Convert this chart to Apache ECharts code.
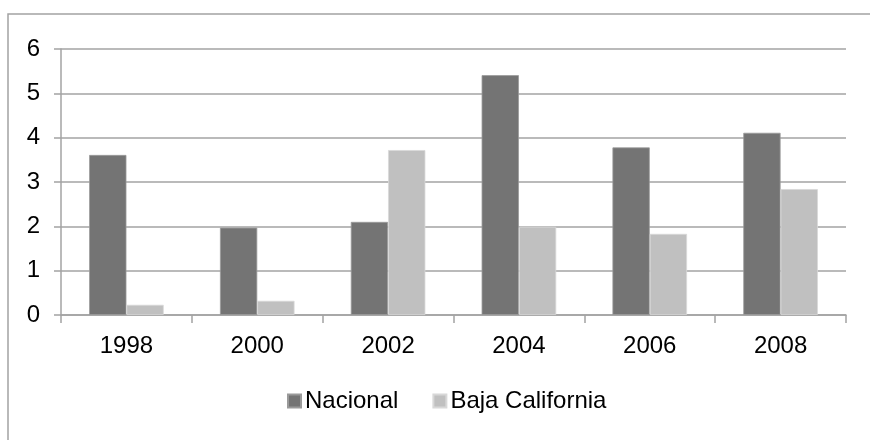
<!DOCTYPE html>
<html>
<head>
<meta charset="utf-8">
<script src="https://cdn.jsdelivr.net/npm/echarts@6/dist/echarts.min.js"></script>
<style>html,body{margin:0;padding:0;background:#fff;}#c{width:870px;height:440px;}</style>
</head>
<body>
<div id="c"></div>
<script>
var categories = ['1998', '2000', '2002', '2004', '2006', '2008'];
var nacional = [3.61, 1.97, 2.10, 5.41, 3.78, 4.11];
var bajaCalifornia = [0.23, 0.32, 3.72, 1.99, 1.83, 2.84];
var seriesNames = ['Nacional', 'Baja California'];

var chart = echarts.init(document.getElementById('c'), null, {renderer: 'canvas'});
var font = 'Liberation Sans, Arial, sans-serif';
chart.setOption({
  animation: false,
  backgroundColor: '#fff',
  graphic: [{
    type: 'rect',
    shape: {x: 8, y: 14, width: 880, height: 460},
    style: {fill: 'none', stroke: '#a3a3a3', lineWidth: 1.5},
    silent: true
  }],
  grid: {left: 61, right: 24, top: 49, bottom: 125, containLabel: false},
  legend: {
    left: 287, top: 389, padding: 0,
    itemWidth: 13, itemHeight: 13, itemGap: 34,
    icon: 'rect',
    textStyle: {fontFamily: font, fontSize: 24, color: '#000', padding: [0, 0, 0, -1]},
    data: seriesNames
  },
  xAxis: {
    type: 'category',
    data: categories,
    axisLine: {lineStyle: {color: '#a3a3a3', width: 1.5}},
    axisTick: {show: true, length: 8, alignWithLabel: false, lineStyle: {color: '#a3a3a3', width: 1.5}},
    axisLabel: {fontFamily: font, fontSize: 24, color: '#000', margin: 19}
  },
  yAxis: {
    type: 'value', min: 0, max: 6, interval: 1,
    axisLine: {show: true, lineStyle: {color: '#a3a3a3', width: 1.5}},
    axisTick: {show: true, length: 7, lineStyle: {color: '#a3a3a3', width: 1.5}},
    splitLine: {lineStyle: {color: '#a3a3a3', width: 1.5}},
    axisLabel: {fontFamily: font, fontSize: 24, color: '#000', margin: 21}
  },
  series: [{
    name: seriesNames[0], type: 'bar', data: nacional,
    barGap: '0%', barCategoryGap: '43%',
    itemStyle: {color: '#747474', borderColor: '#9a9a9a', borderWidth: 0.8}
  }, {
    name: seriesNames[1], type: 'bar', data: bajaCalifornia,
    barGap: '0%', barCategoryGap: '43%',
    itemStyle: {color: '#c0c0c0', borderColor: '#d8d8d8', borderWidth: 0.8}
  }]
});
</script>
</body>
</html>
